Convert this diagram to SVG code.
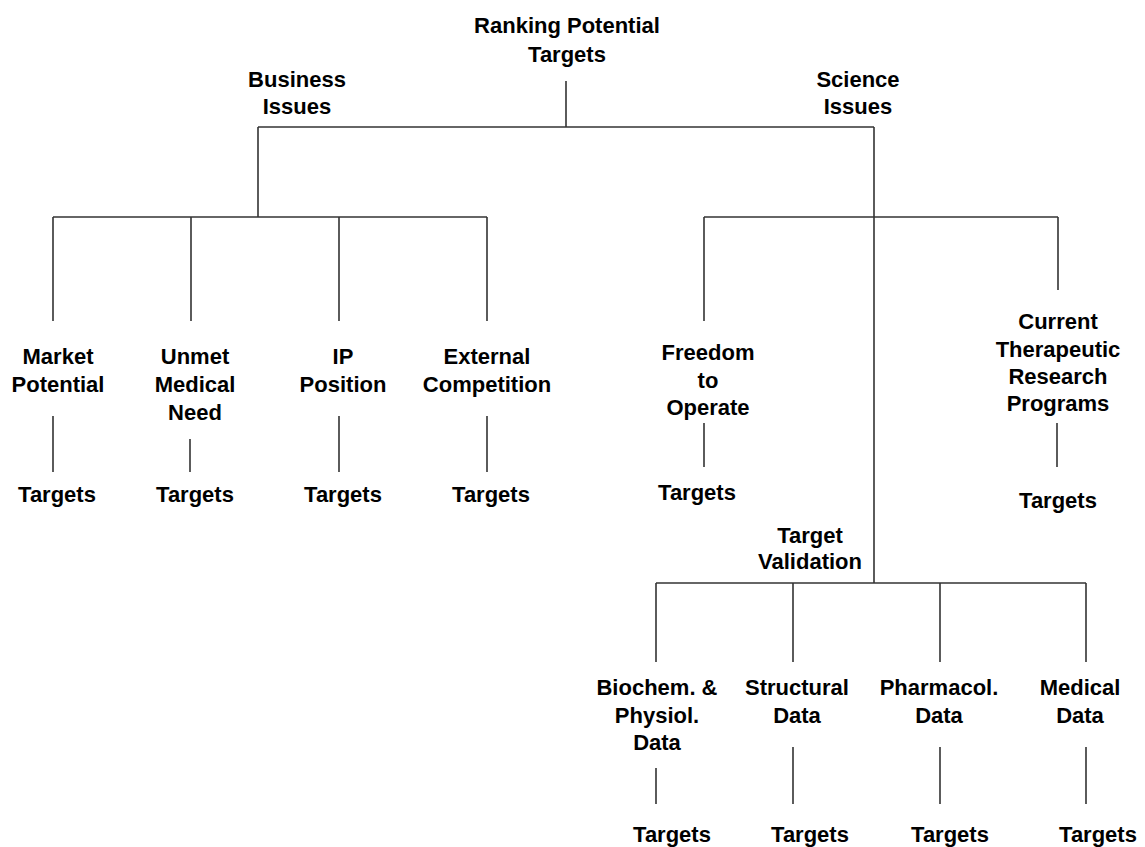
<svg xmlns="http://www.w3.org/2000/svg" width="1145" height="847" viewBox="0 0 1145 847">
<style>
text{font-family:"Liberation Sans",Arial,sans-serif;font-weight:bold;font-size:22px;fill:#000;text-anchor:middle}
.c line{stroke:#333;stroke-width:1.6;fill:none}
</style>
<rect width="1145" height="847" fill="#fff"/>
<g class="c" id="connectors">
<line x1="566" y1="81" x2="566" y2="127"/>
<line x1="258" y1="127" x2="874" y2="127"/>
<line x1="258" y1="127" x2="258" y2="217"/>
<line x1="53" y1="217" x2="487" y2="217"/>
<line x1="53" y1="217" x2="53" y2="321"/>
<line x1="191" y1="217" x2="191" y2="321"/>
<line x1="339" y1="217" x2="339" y2="321"/>
<line x1="487" y1="217" x2="487" y2="321"/>
<line x1="53" y1="416" x2="53" y2="472"/>
<line x1="190" y1="439" x2="190" y2="472"/>
<line x1="339" y1="416" x2="339" y2="472"/>
<line x1="487" y1="416" x2="487" y2="472"/>
<line x1="874" y1="127" x2="874" y2="583"/>
<line x1="704" y1="217" x2="1058" y2="217"/>
<line x1="704" y1="217" x2="704" y2="321"/>
<line x1="1058" y1="217" x2="1058" y2="290"/>
<line x1="704" y1="423" x2="704" y2="467"/>
<line x1="1057" y1="423" x2="1057" y2="467"/>
<line x1="656" y1="583" x2="1086" y2="583"/>
<line x1="656" y1="583" x2="656" y2="662"/>
<line x1="793" y1="583" x2="793" y2="662"/>
<line x1="940" y1="583" x2="940" y2="662"/>
<line x1="1086" y1="583" x2="1086" y2="662"/>
<line x1="656" y1="768" x2="656" y2="804"/>
<line x1="793" y1="747" x2="793" y2="804"/>
<line x1="940" y1="747" x2="940" y2="804"/>
<line x1="1086" y1="747" x2="1086" y2="804"/>
</g>
<g id="root"><text x="567" y="33">Ranking Potential</text><text x="567" y="62">Targets</text></g>
<g id="business"><text x="297" y="87">Business</text><text x="297" y="114">Issues</text></g>
<g id="science"><text x="858" y="87">Science</text><text x="858" y="114">Issues</text></g>
<g id="market"><text x="58" y="364">Market</text><text x="58" y="392">Potential</text></g>
<g id="market-t"><text x="57" y="502">Targets</text></g>
<g id="unmet"><text x="195" y="364">Unmet</text><text x="195" y="392">Medical</text><text x="195" y="420">Need</text></g>
<g id="unmet-t"><text x="195" y="502">Targets</text></g>
<g id="ip"><text x="343" y="364">IP</text><text x="343" y="392">Position</text></g>
<g id="ip-t"><text x="343" y="502">Targets</text></g>
<g id="external"><text x="487" y="364">External</text><text x="487" y="392">Competition</text></g>
<g id="external-t"><text x="491" y="502">Targets</text></g>
<g id="freedom"><text x="708" y="360">Freedom</text><text x="708" y="388">to</text><text x="708" y="415">Operate</text></g>
<g id="freedom-t"><text x="697" y="500">Targets</text></g>
<g id="current"><text x="1058" y="329">Current</text><text x="1058" y="357">Therapeutic</text><text x="1058" y="384">Research</text><text x="1058" y="411">Programs</text></g>
<g id="current-t"><text x="1058" y="508">Targets</text></g>
<g id="validation"><text x="810" y="543">Target</text><text x="810" y="569">Validation</text></g>
<g id="biochem"><text x="657" y="695">Biochem. &amp;</text><text x="657" y="723">Physiol.</text><text x="657" y="750">Data</text></g>
<g id="biochem-t"><text x="672" y="842">Targets</text></g>
<g id="structural"><text x="797" y="695">Structural</text><text x="797" y="723">Data</text></g>
<g id="structural-t"><text x="810" y="842">Targets</text></g>
<g id="pharmacol"><text x="939" y="695">Pharmacol.</text><text x="939" y="723">Data</text></g>
<g id="pharmacol-t"><text x="950" y="842">Targets</text></g>
<g id="medical"><text x="1080" y="695">Medical</text><text x="1080" y="723">Data</text></g>
<g id="medical-t"><text x="1098" y="842">Targets</text></g>
</svg>
